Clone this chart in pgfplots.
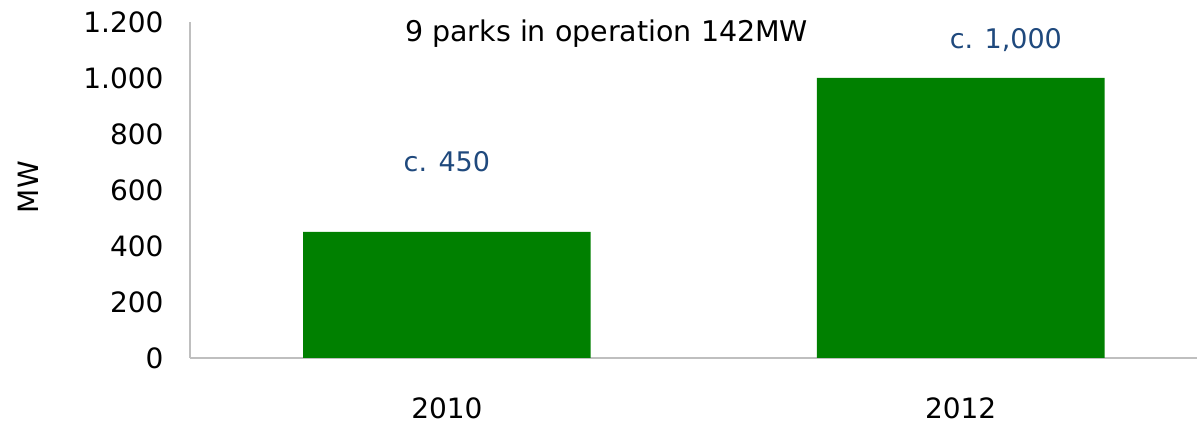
\documentclass[border=0pt]{standalone}
\usepackage{pgfplots}
\pgfplotsset{compat=1.18}
\usepackage{fontspec}
\setmainfont{DejaVu Sans}
\definecolor{bargreen}{RGB}{0,128,0}
\definecolor{lblblue}{RGB}{31,73,125}
\definecolor{axgray}{RGB}{191,191,191}
\begin{document}
\begin{tikzpicture}
\useasboundingbox (-190pt,-65pt) rectangle (1007pt,358pt);
\begin{axis}[
  at={(0pt,0pt)}, anchor=south west,
  scale only axis, width=1007pt, height=336pt,
  xmin=-0.5, xmax=1.46, ymin=0, ymax=1200,
  axis x line*=bottom, axis y line*=left,
  axis line style={axgray, line width=1.2pt},
  ytick={0,200,...,1200},
  xtick={0,1}, xticklabels={2010,2012},
  major tick length=0pt,
  /pgf/number format/assume math mode=true,
  /pgf/number format/.cd, 1000 sep={.},
  /pgfplots/.cd,
  tick label style={font=\fontsize{28}{34}\selectfont, black},
  yticklabel style={xshift=-23pt},
  xticklabel style={yshift=-36pt},
  ybar, bar width=0.56,
  clip=false,
]
\addplot[fill=bargreen, draw=none] coordinates {(0,450) (1,1000)};
\node[font=\fontsize{27}{34}\selectfont, text=lblblue] at (axis cs:0,700) {c. 450};
\node[font=\fontsize{27}{34}\selectfont, text=lblblue] at (axis cs:1.088,1136) {c. 1,000};
\node[font=\fontsize{28.5}{34}\selectfont, text=black] at (axis cs:0.311,1160) {9 parks in operation 142MW};
\node[font=\fontsize{28}{34}\selectfont, rotate=90] at (axis cs:-0.5,610) [yshift=162pt] {MW};
\end{axis}
\end{tikzpicture}
\end{document}
